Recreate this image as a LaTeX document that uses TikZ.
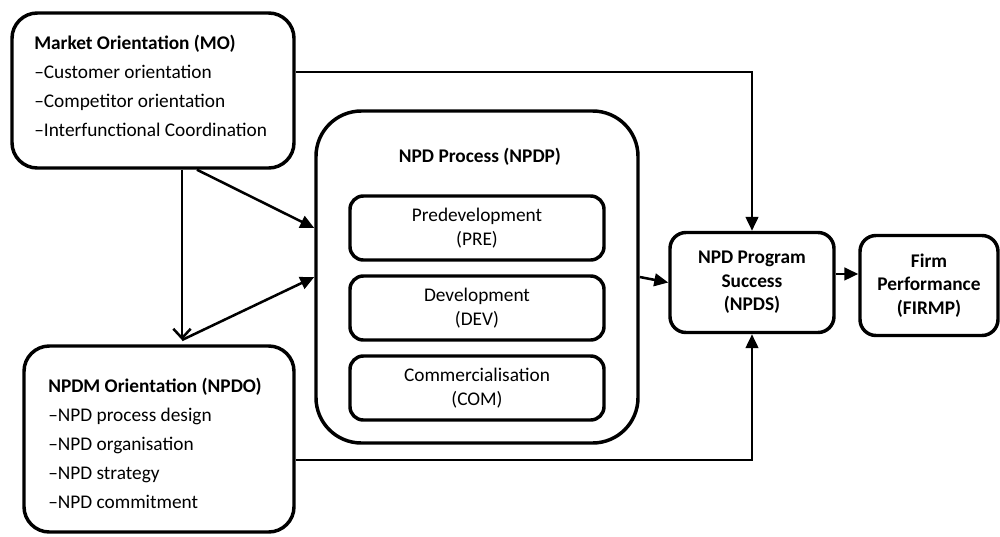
\documentclass[tikz,border=0pt]{standalone}
\usepackage{fontspec}
\setmainfont{Carlito}
\usetikzlibrary{arrows.meta}
\newcommand{\fsz}{\fontsize{14.5}{17.6}\selectfont}
\begin{document}
\begin{tikzpicture}[x=0.75pt,y=-0.75pt,
  box/.style={draw, line width=2.6pt, inner sep=0pt, align=center, font=\fsz},
  lbl/.style={anchor=base west, inner sep=0pt, font=\fsz},
  hd/.style={anchor=base west, inner sep=0pt, font=\fsz\bfseries},
  conn/.style={line width=1.9pt, -{Triangle[length=10.5pt,width=9.5pt]}},
  openarr/.style={line width=1.9pt, -{Straight Barb[length=7pt,width=13pt,line width=1.9pt]}}]
\useasboundingbox (0,0) rectangle (1000,536);
% boxes
\node[box, rounded corners=19pt, minimum width=211.5pt, minimum height=116.25pt] (MO) at (153,90.5) {};
\node[box, rounded corners=19pt, minimum width=202.5pt, minimum height=139.5pt] (NPDO) at (159,439) {};
\node[box, rounded corners=34pt, minimum width=241.5pt, minimum height=249pt] (NPDP) at (477,277) {};
\node[box, rounded corners=10pt, minimum width=190.5pt, minimum height=48pt] (PRE) at (477,228) {Predevelopment\\(PRE)};
\node[box, rounded corners=10pt, minimum width=190.5pt, minimum height=48pt] (DEV) at (477,308) {Development\\(DEV)};
\node[box, rounded corners=10pt, minimum width=190.5pt, minimum height=48pt] (COM) at (477,388) {Commercialisation\\(COM)};
\node[box, rounded corners=12pt, minimum width=123pt, minimum height=75pt, font=\fsz\bfseries] (NPDS) at (752,282.5) {NPD Program\\Success\\(NPDS)};
\node[box, rounded corners=12pt, minimum width=103.5pt, minimum height=75pt, font=\fsz\bfseries] (FIRMP) at (929,285.5) {Firm\\Performance\\(FIRMP)};
% texts
\node[hd] (moh) at (34,49) {Market Orientation (MO)};
\node[lbl] (mo1) at (34,78) {–Customer orientation};
\node[lbl] (mo2) at (34,107) {–Competitor orientation};
\node[lbl] (mo3) at (34,136) {–Interfunctional Coordination};
\node[hd] (noh) at (48,392) {NPDM Orientation (NPDO)};
\node[lbl] (no1) at (48,421) {–NPD process design};
\node[lbl] (no2) at (48,450) {–NPD organisation};
\node[lbl] (no3) at (48,479) {–NPD strategy};
\node[lbl] (no4) at (48,508) {–NPD commitment};
\node[hd, anchor=base] (nph) at (480,162) {NPD Process (NPDP)};
% connectors
\coordinate (v) at (182,340);
\draw[conn] ([yshift=13.9pt]MO.east) -| (NPDS.north);
\draw[conn] ([yshift=-15.75pt]NPDO.east) -| (NPDS.south);
\draw[openarr] ([xshift=21.75pt]MO.south) -- (v);
\draw[conn] ([xshift=33pt]MO.south) -- ([yshift=36.75pt]NPDP.west);
\draw[conn] (v) -- (NPDP.west);
\draw[conn] (NPDP.east) -- (NPDS.west);
\coordinate (s) at ([yshift=6.4pt]NPDS.east);
\draw[conn] (s) -- (FIRMP.west |- s);
\end{tikzpicture}
\end{document}
